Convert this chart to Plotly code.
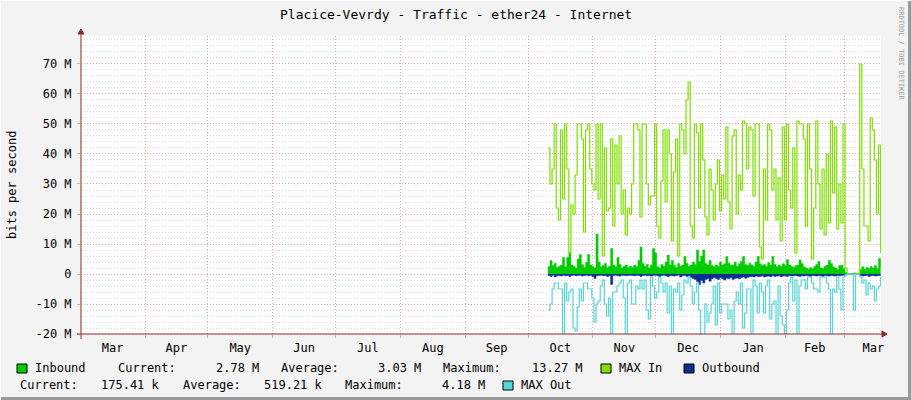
import plotly.graph_objects as go
import pandas as pd

# daily samples in Mbit/s, first one on 10 Oct 2013
start = "2013-10-10 12:00"

inbound = [
    2.5, 4.5, 2.8, 3.5, 2.2, 2.6, 3.0, 5.5, 2.4, 5.5,
    7.2, 3.0, 2.6, 2.0, 5.0, 6.5, 3.2, 2.2, 3.8, 6.5,
    3.0, 2.5, 2.0, 13.3, 4.0, 2.4, 2.8, 3.5, 2.2, 2.6,
    8.5, 3.0, 2.4, 5.5, 3.2, 2.0, 2.6, 3.0, 2.2, 2.6,
    2.2, 3.0, 2.4, 4.5, 9.0, 3.5, 2.6, 3.2, 2.0, 3.0,
    8.5, 7.0, 2.4, 2.0, 3.2, 2.6, 4.0, 6.3, 3.0, 4.5,
    2.8, 2.2, 3.5, 2.6, 3.0, 5.8, 3.5, 2.6, 3.0, 4.0,
    3.2, 8.0, 4.2, 6.0, 8.0, 3.5, 3.0, 4.5, 2.8, 2.4,
    3.0, 2.6, 4.0, 3.0, 3.4, 5.8, 3.6, 2.8, 3.0, 4.0,
    2.6, 3.4, 4.2, 5.8, 3.2, 2.8, 3.6, 3.0, 2.6, 4.0,
    5.8, 3.4, 2.8, 3.2, 2.6, 3.8, 3.0, 5.8, 3.2, 2.4,
    3.0, 2.6, 3.4, 2.8, 4.8, 3.0, 2.6, 2.2, 2.8, 3.0,
    4.7, 3.5, 2.4, 2.0, 1.6, 2.2, 1.8, 2.5, 3.2, 4.2,
    2.0, 1.8, 2.6, 3.0, 4.6, 3.5, 2.4, 2.0, 1.6, 2.8,
    3.0, 1.8, 0.5, 0, 0, 0, 0, 0, 0, 1.5,
    2.4, 1.6, 2.2, 1.8, 2.5, 2.0, 2.8, 1.8, 5.2, 2.4,
]

max_in = [
    42, 30, 35, 50, 22, 18, 48, 25, 50, 35,
    7, 23, 20, 33, 50, 50, 45, 14, 48, 50,
    35, 30, 28, 50, 25, 50, 6, 42, 21, 22,
    45, 16, 43, 30, 46, 20, 28, 13, 22, 20,
    30, 50, 50, 48, 19, 50, 50, 30, 23, 26,
    26, 50, 16, 12, 31, 48, 24, 48, 40, 11,
    34, 45, 6, 50, 48, 40, 58, 64, 16, 12,
    50, 47, 22, 50, 38, 19, 13, 35, 28, 18,
    30, 38, 21, 33, 25, 49, 24, 15, 46, 48,
    20, 33, 28, 51, 50, 35, 49, 48, 26, 50,
    50, 9, 5, 35, 18, 50, 48, 28, 35, 18,
    32, 11, 49, 18, 50, 28, 22, 42, 7, 51,
    50, 50, 45, 16, 50, 35, 5, 22, 51, 30,
    15, 35, 13, 40, 17, 51, 27, 49, 15, 30,
    17, 50, 2, 0, 0, 0, 0.3, 0, 0, 70,
    35, 16, 16, 11, 52, 48, 38, 20, 43, 7,
]

outbound = [
    -0.5, -0.8, -0.4, -1.0, -0.6, -0.5, -0.7, -0.4, -0.6, -0.5,
    -0.8, -0.5, -0.4, -0.6, -0.5, -0.4, -0.7, -0.5, -0.4, -0.6,
    -0.5, -0.8, -1.5, -0.6, -0.5, -0.4, -0.6, -0.5, -0.8, -0.6,
    -3.5, -0.5, -0.4, -0.6, -0.7, -0.4, -0.5, -0.6, -0.5, -0.4,
    -0.5, -0.6, -0.4, -0.5, -0.8, -0.5, -0.4, -0.6, -0.5, -0.7,
    -0.5, -0.4, -0.6, -0.8, -0.5, -0.4, -0.6, -0.9, -0.5, -0.6,
    -0.7, -0.5, -0.4, -1.0, -0.6, -0.5, -0.8, -0.6, -1.2, -1.5,
    -1.8, -2.5, -3.5, -2.2, -3.0, -1.8, -1.5, -2.4, -1.6, -1.2,
    -1.5, -1.8, -1.2, -1.6, -2.0, -1.4, -1.6, -1.2, -1.8, -1.5,
    -1.3, -1.6, -1.2, -1.0, -1.4, -1.1, -0.9, -0.8, -1.0, -0.7,
    -0.9, -0.8, -0.6, -1.0, -0.8, -0.7, -0.9, -0.6, -0.8, -0.7,
    -0.6, -0.9, -0.7, -0.6, -0.8, -0.5, -0.7, -0.6, -0.5, -0.7,
    -0.8, -0.6, -0.7, -0.5, -0.6, -0.8, -0.5, -0.6, -0.7, -0.5,
    -0.6, -0.8, -0.5, -0.6, -0.7, -0.5, -0.6, -0.7, -0.5, -0.6,
    -0.5, -0.4, -0.2, 0, 0, 0, 0, 0, 0, -0.5,
    -0.7, -0.6, -0.5, -0.8, -0.6, -0.5, -0.7, -0.6, -0.5, -0.4,
]

max_out = [
    -12, -10, -5, -3, -3, -5, -5, -21, -3, -9,
    -6, -5, -18, -19, -11, -5, -9, -3, -3, -5,
    -5, -8, -16, -10, -9, -4, -2, -10, -14, -8,
    -21, -6, -6, -4, -3, -2, -8, -21, -3, -2,
    -10, -10, -4, -5, -2, -5, -2, -12, -15, -1,
    -4, -8, -6, -1, -3, -6, -3, -13, -4, -21,
    -5, -6, -3, -12, -7, -2, -3, -1, -4, -10,
    -6, -3, -12, -21, -21, -10, -16, -13, -10, -4,
    -17, -3, -13, -10, -10, -10, -15, -12, -21, -9,
    -6, -10, -3, -18, -13, -5, -5, -21, -2, -4,
    -13, -3, -6, -13, -4, -2, -15, -10, -9, -21,
    -4, -14, -17, -21, -12, -3, -1, -9, -2, -21,
    -4, -2, -2, -5, -1, -1, -3, -5, -5, -6,
    -1, -1, -1, -3, -5, -21, -5, -6, -1, -5,
    -12, -1, -0.3, 0, 0, 0, -12, 0, 0, -1,
    -3, -2, -7, -3, -5, -4, -9, -5, -4, -1,
]

y_ticks = [-20, -10, 0, 10, 20, 30, 40, 50, 60, 70]
y_ticklabels = ["-20 M", "-10 M", "0", "10 M", "20 M", "30 M", "40 M", "50 M", "60 M", "70 M"]

in_stats = ["2.78 M", "3.03 M", "13.27 M"]
out_stats = ["175.41 k", "519.21 k", "4.18 M"]

days = pd.date_range(start, periods=len(inbound), freq="D")

C_IN = "#00CC00"
C_MAXIN = "#7FE000"
C_OUT = "#0A2E96"
C_MAXOUT = "#55D6D6"
AXIS = "#8B2A2A"
GRID_MAJOR = "#F0A0A0"
GRID_MINOR = "#D9D9D9"
FONT = "DejaVu Sans Mono"

# pixel -> paper helpers (plot area is x 81..881, y 36..334)
def px(x):
    return (x - 81) / 800

def py(y):
    return (334 - y) / 298

fig = go.Figure()
fig.add_trace(go.Scatter(x=days, y=inbound, mode="lines", fill="tozeroy",
                         line=dict(shape="hv", width=0.5, color=C_IN), fillcolor=C_IN))
fig.add_trace(go.Scatter(x=days, y=max_in, mode="lines",
                         line=dict(shape="hv", width=1.2, color=C_MAXIN)))
fig.add_trace(go.Scatter(x=days, y=outbound, mode="lines", fill="tozeroy",
                         line=dict(shape="hv", width=0.5, color=C_OUT), fillcolor=C_OUT))
fig.add_trace(go.Scatter(x=days, y=max_out, mode="lines",
                         line=dict(shape="hv", width=1.2, color=C_MAXOUT)))

fig.update_xaxes(
    type="date", range=["2013-03-01 10:00", "2014-03-18 16:00"],
    tick0="2013-03-01", dtick="M1", tickformat="%b", ticklabelmode="period",
    showgrid=True, gridcolor=GRID_MAJOR, griddash="1px,2px", gridwidth=1,
    ticks="outside", ticklen=3, tickcolor=GRID_MAJOR,
    showline=False, zeroline=False,
    tickfont=dict(family=FONT, size=12, color="#000"),
)
fig.update_yaxes(
    range=[-20, 79.33], tickmode="array", tickvals=y_ticks, ticktext=y_ticklabels,
    showgrid=True, gridcolor=GRID_MAJOR, griddash="1px,2px", gridwidth=1,
    minor=dict(tickmode="linear", tick0=0, dtick=2, showgrid=True,
               gridcolor=GRID_MINOR, griddash="1px,2px", ticks=""),
    ticks="outside", ticklen=3, tickcolor=GRID_MAJOR, ticklabelstandoff=3,
    showline=False, zeroline=False,
    tickfont=dict(family=FONT, size=12, color="#000"),
)

shapes = [
    # axes with arrows
    dict(type="line", x0=px(81), x1=px(81), y0=py(339), y1=py(33), line=dict(color=AXIS, width=1)),
    dict(type="path", path=f"M {px(78)} {py(34)} L {px(84)} {py(34)} L {px(81)} {py(29)} Z",
         fillcolor=AXIS, line=dict(color=AXIS, width=1)),
    dict(type="line", x0=px(77), x1=px(883), y0=py(334), y1=py(334), line=dict(color=AXIS, width=1)),
    dict(type="path", path=f"M {px(882)} {py(331)} L {px(882)} {py(337)} L {px(887)} {py(334)} Z",
         fillcolor=AXIS, line=dict(color=AXIS, width=1)),
    # frame shading
    dict(type="line", x0=px(909.5), x1=px(909.5), y0=py(0), y1=py(400), line=dict(color="#9A9A9A", width=3)),
    dict(type="line", x0=px(0), x1=px(911), y0=py(398.5), y1=py(398.5), line=dict(color="#9A9A9A", width=3)),
    dict(type="line", x0=px(0.5), x1=px(0.5), y0=py(0), y1=py(400), line=dict(color="#FFFFFF", width=1)),
    dict(type="line", x0=px(0), x1=px(911), y0=py(0.5), y1=py(0.5), line=dict(color="#FFFFFF", width=1)),
]

# legend colour boxes
for x0, y0, col in [(17, 364, C_IN), (601, 364, C_MAXIN), (684, 364, C_OUT), (503, 381, C_MAXOUT)]:
    shapes.append(dict(type="rect", x0=px(x0), x1=px(x0 + 10), y0=py(y0), y1=py(y0 + 9),
                       fillcolor=col, line=dict(color="#000", width=1)))

for s in shapes:
    s.update(xref="paper", yref="paper", layer="above")

ann = []

def text(x, y, s, anchor="left", size=12, color="#000", angle=0):
    ann.append(dict(x=px(x), y=py(y), xref="paper", yref="paper", text=s, showarrow=False,
                    xanchor=anchor, yanchor="middle", textangle=angle,
                    font=dict(family=FONT, size=size, color=color)))

text(456, 14, "Placice-Vevrdy - Traffic - ether24 - Internet", anchor="center", size=13)
text(12, 185, "bits per second", anchor="center", size=12, angle=-90)
text(901, 54, "RRDTOOL / TOBI OETIKER", anchor="center", size=7, color="#A0A0A0", angle=90)

# legend row 1
text(33, 368, "Inbound")
text(116, 368, "Current:")
text(261, 368, in_stats[0], anchor="right")
text(279, 368, "Average:")
text(423, 368, in_stats[1], anchor="right")
text(441, 368, "Maximum:")
text(585, 368, in_stats[2], anchor="right")
text(617, 368, "MAX In")
text(700, 368, "Outbound")
# legend row 2
text(18, 385, "Current:")
text(162, 385, out_stats[0], anchor="right")
text(181, 385, "Average:")
text(325, 385, out_stats[1], anchor="right")
text(343, 385, "Maximum:")
text(487, 385, out_stats[2], anchor="right")
text(519, 385, "MAX Out")

fig.update_layout(
    width=911, height=400,
    margin=dict(l=81, r=30, t=36, b=66),
    paper_bgcolor="#F3F3F3", plot_bgcolor="#FFFFFF",
    showlegend=False,
    font=dict(family=FONT, size=12, color="#000"),
    shapes=shapes, annotations=ann,
)

# the page's default body margin would push the 911x400 figure off by 8px
fig.write_html("out.html", config={"displayModeBar": False},
               post_script="document.body.style.margin='0';")
